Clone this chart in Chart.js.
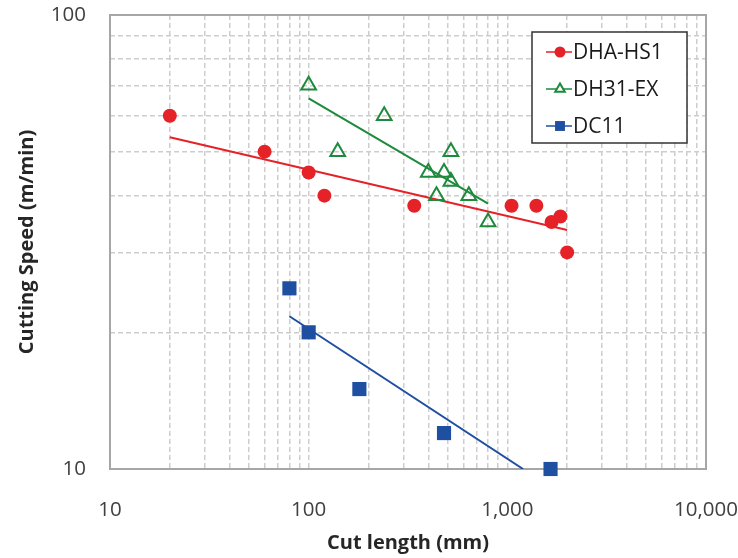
<!DOCTYPE html>
<html>
<head>
<meta charset="utf-8">
<script src="https://cdn.jsdelivr.net/npm/chart.js@4/dist/chart.umd.min.js"></script>
<style>
  html, body { margin: 0; padding: 0; background: #fff; }
  #wrap { width: 738px; height: 558px; }
</style>
</head>
<body>
<div id="wrap"><canvas id="chart"></canvas></div>
<script>
// cut length (mm) vs cutting speed (m/min)
const hs1Length = [20, 60, 100, 120, 340, 1050, 1400, 1670, 1850, 2000];
const hs1Speed  = [60, 50, 45, 40, 38, 38, 38, 35, 36, 30];

const dh31Length = [100, 240, 140, 520, 400, 480, 520, 440, 640, 800];
const dh31Speed  = [70, 60, 50, 50, 45, 45, 43, 40, 40, 35];

const dc11Length = [80, 100, 180, 480, 1650];
const dc11Speed  = [25, 20, 15, 12, 10];

// power-law trend lines, [length, speed] at each end
const hs1Trend  = [[20, 53.8], [2000, 33.6]];
const dh31Trend = [[100, 65.5], [800, 38.4]];
const dc11Trend = [[80, 21.7], [1200, 10]];

const xTicks = [10, 100, 1000, 10000];
const yTicks = [10, 100];

const RED = '#e52228', GREEN = '#1d8a3c', BLUE = '#1f4fa0';
const FONT = "'Open Sans', 'Segoe UI', sans-serif";

const pts = (xs, ys) => xs.map((x, i) => ({ x, y: ys[i] }));
const line = arr => arr.map(([x, y]) => ({ x, y }));

// grid lines at every 1..9 step of each decade
function logGrid(ticks) {
  const out = [];
  for (let i = 0; i < ticks.length - 1; i++) {
    for (let m = 1; m < 10; m++) out.push({ value: ticks[i] * m });
  }
  out.push({ value: ticks[ticks.length - 1] });
  return out;
}

const frame = {
  id: 'frame',
  beforeDatasetsDraw(chart) {
    const { ctx, chartArea: a } = chart;
    ctx.save();
    ctx.strokeStyle = '#a6a6a6';
    ctx.lineWidth = 2;
    ctx.strokeRect(a.left, a.top, a.right - a.left, a.bottom - a.top);
    ctx.restore();
  }
};

const legendBox = {
  id: 'legendBox',
  afterDraw(chart) {
    const { ctx, chartArea: a } = chart;
    const items = chart.data.datasets.filter(d => d.label);
    const w = 155, h = 111;
    const x = a.right - 19 - w, y = a.top + 17;
    ctx.save();
    ctx.fillStyle = '#fff';
    ctx.fillRect(x, y, w, h);
    ctx.strokeStyle = '#333';
    ctx.lineWidth = 1.5;
    ctx.strokeRect(x, y, w, h);
    ctx.font = '21px ' + FONT;
    ctx.textBaseline = 'middle';
    items.forEach((d, i) => {
      const cy = y + 20 + i * 37;
      ctx.strokeStyle = d.borderColor;
      ctx.lineWidth = 1.5;
      ctx.beginPath();
      ctx.moveTo(x + 14, cy);
      ctx.lineTo(x + 40, cy);
      ctx.stroke();
      ctx.fillStyle = d.pointStyle === 'triangle' ? '#fff' : d.backgroundColor;
      ctx.lineWidth = d.pointBorderWidth;
      Chart.helpers.drawPoint(ctx, {
        pointStyle: d.pointStyle,
        radius: d.pointStyle === 'rect' ? 7 : 5.5,
        borderWidth: d.pointBorderWidth,
        rotation: 0
      }, x + 28, cy);
      ctx.fillStyle = '#1a1a1a';
      ctx.fillText(d.label, x + 41, cy + 1);
    });
    ctx.restore();
  }
};

const tickFont = { family: FONT, size: 20.5 };
const titleFont = { family: FONT, size: 20, weight: 'bold' };

new Chart(document.getElementById('chart'), {
  type: 'scatter',
  data: {
    datasets: [
      { label: 'DHA-HS1', data: pts(hs1Length, hs1Speed), pointStyle: 'circle', pointRadius: 7,
        backgroundColor: RED, borderColor: RED, pointBorderWidth: 0, clip: false },
      { label: 'DH31-EX', data: pts(dh31Length, dh31Speed), pointStyle: 'triangle', pointRadius: 8.5,
        backgroundColor: 'rgba(255,255,255,0)', borderColor: GREEN, pointBorderWidth: 2, clip: false },
      { label: 'DC11', data: pts(dc11Length, dc11Speed), pointStyle: 'rect', pointRadius: 10,
        backgroundColor: BLUE, borderColor: BLUE, pointBorderWidth: 0, clip: false },
      { data: line(hs1Trend), showLine: true, pointRadius: 0, borderColor: RED, borderWidth: 2 },
      { data: line(dh31Trend), showLine: true, pointRadius: 0, borderColor: GREEN, borderWidth: 2 },
      { data: line(dc11Trend), showLine: true, pointRadius: 0, borderColor: BLUE, borderWidth: 2 }
    ]
  },
  options: {
    responsive: true,
    maintainAspectRatio: false,
    animation: false,
    layout: { padding: { top: 15, right: 32, bottom: 0, left: 0 } },
    plugins: { legend: { display: false }, tooltip: { enabled: false } },
    scales: {
      x: {
        type: 'logarithmic',
        min: 10, max: 10000,
        afterBuildTicks: s => { s.ticks = logGrid(xTicks); },
        afterFit: s => { s.height = 89; s.paddingLeft = 0; s.paddingRight = 0; },
        ticks: {
          autoSkip: false, maxRotation: 0, padding: 29, color: '#404040', font: tickFont,
          callback: v => xTicks.includes(v) ? v.toLocaleString('en-US') : ''
        },
        grid: { color: '#cdcdcd', lineWidth: 1.5, drawTicks: false },
        border: { display: false, dash: [5, 3] },
        title: { display: true, text: 'Cut length (mm)', color: '#262626', font: titleFont,
                 padding: { top: 0, bottom: 3 } }
      },
      y: {
        type: 'logarithmic',
        min: 10, max: 100,
        afterBuildTicks: s => { s.ticks = logGrid(yTicks); },
        afterFit: s => { s.width = 110; s.paddingTop = 0; s.paddingBottom = 0; },
        ticks: {
          autoSkip: false, padding: 24, color: '#404040', font: tickFont,
          callback: v => yTicks.includes(v) ? String(v) : ''
        },
        grid: { color: '#cdcdcd', lineWidth: 1.5, drawTicks: false },
        border: { display: false, dash: [5, 3] },
        title: { display: true, text: 'Cutting Speed (m/min)', color: '#262626', font: titleFont,
                 padding: { top: 15, bottom: 0 } }
      }
    }
  },
  plugins: [frame, legendBox]
});
</script>
</body>
</html>
